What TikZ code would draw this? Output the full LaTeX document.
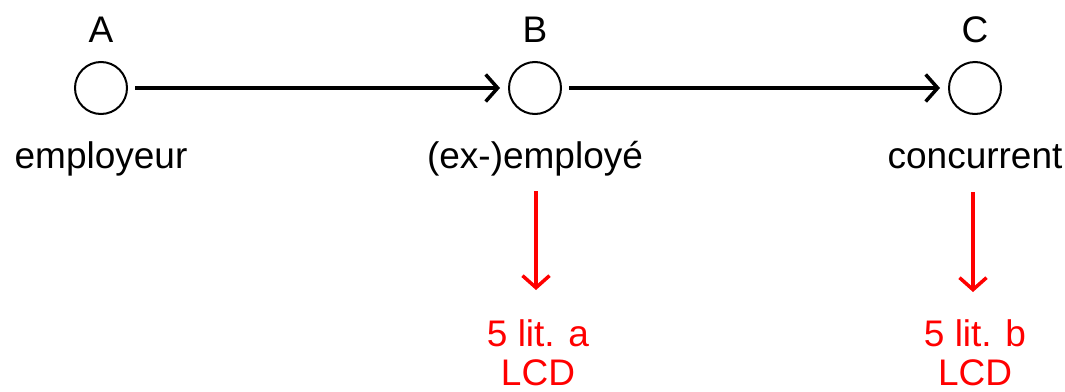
\documentclass[tikz,border=0pt]{standalone}
\usepackage{fontspec}
\setmainfont{Liberation Sans}
\usetikzlibrary{arrows.meta}
\begin{document}
\begin{tikzpicture}[x=1pt,y=-1pt,
  party/.style={circle,draw=black,line width=2pt,minimum size=52pt,inner sep=0pt},
  lbl/.style={font=\fontsize{37}{40}\selectfont,anchor=base,inner sep=0pt},
  reflbl/.style={lbl,text=red},
  tip/.style={-{Straight Barb[length=12pt,width=27pt,line width=3.5pt]}},
  flow/.style={draw=black,line width=3.5pt,tip},
  ref/.style={draw=red,line width=3.5pt,tip}]
\useasboundingbox (0,0) rectangle (1065,391);
% the three parties
\node[party] (a) at (101,88) {};
\node[party] (b) at (535,88) {};
\node[party] (c) at (975,88) {};
\node[lbl] (la) at (101,42) {A};
\node[lbl] (lb) at (535,42) {B};
\node[lbl] (lc) at (975,42) {C};
\node[lbl] (na) at (101,168) {employeur};
\node[lbl] (nb) at (535,168) {(ex-)employé};
\node[lbl] (nc) at (975,168) {concurrent};
% flow between parties
\draw[flow,shorten <=7pt,shorten >=8pt] (a) -- (b);
\draw[flow,shorten <=7pt,shorten >=8pt] (b) -- (c);
% references to the law
\coordinate (bs) at (536,191);
\coordinate (be) at (536,290);
\coordinate (cs) at (973,192);
\coordinate (ce) at (973,292);
\draw[ref] (bs) -- (be);
\draw[ref] (cs) -- (ce);
\node[reflbl] (ra) at (538,346) {5 lit. a};
\node[reflbl] (ra2) at (538,385) {LCD};
\node[reflbl] (rb) at (975,346) {5 lit. b};
\node[reflbl] (rb2) at (975,385) {LCD};
\end{tikzpicture}
\end{document}
